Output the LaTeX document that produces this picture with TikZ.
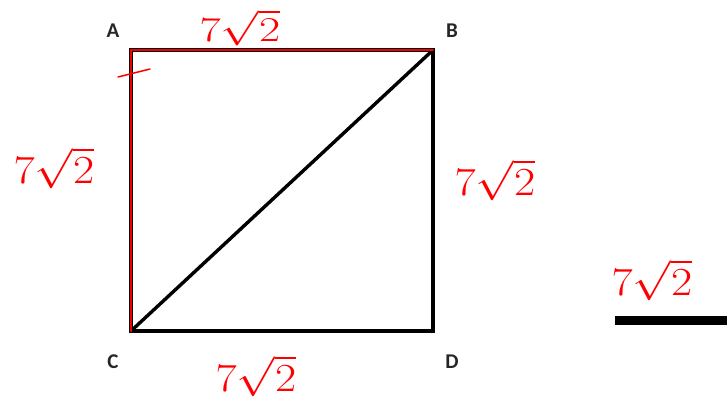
\documentclass[tikz,border=0pt]{standalone}
\usepackage{fontspec}
\setsansfont{Carlito}
\newcommand{\redseven}[1][1.6]{\scalebox{1.85}[#1]{$7\sqrt{2}$}}
\begin{document}
\begin{tikzpicture}[x=1pt,y=-1pt,
  blackedge/.style={line width=3.4pt,black,line cap=round},
  rededge/.style={line width=2.6pt,red!95!black,line cap=round},
  corner/.style={font=\sffamily\bfseries\fontsize{21}{21}\selectfont,text=black!85},
  redlabel/.style={text=red,inner sep=0pt,anchor=base,font=\Huge}]
\useasboundingbox[fill=white] (0,0) rectangle (727,400);
\coordinate (A) at (131,50);
\coordinate (B) at (433,50);
\coordinate (C) at (131,331);
\coordinate (D) at (433,331);
\draw[blackedge] (A) -- (B) -- (D) -- (C) -- cycle;
\draw[blackedge] (C) -- (B);
\draw[rededge] (C) -- (A) -- (B);
\coordinate (t1) at (118,77);
\coordinate (t2) at (150,69);
\draw[red,line width=1.5pt,line cap=round] (t1) -- (t2);
\node[corner] (la) at (113,31) {A};
\node[corner] (lb) at (452,31) {B};
\node[corner] (lc) at (113,362) {C};
\node[corner] (ld) at (452,362) {D};
\node[redlabel] (ltop) at (240,41) {\redseven[1.4]};
\node[redlabel] (lleft) at (54,183) {\redseven};
\node[redlabel] (lright) at (495,195) {\redseven};
\node[redlabel] (lbot) at (256,391) {\redseven};
\node[redlabel] (lfar) at (652,295) {\redseven};
\coordinate (s1) at (615,320);
\coordinate (s2) at (727,320);
\draw[line width=9pt,black] (s1) -- (s2);
\end{tikzpicture}
\end{document}
